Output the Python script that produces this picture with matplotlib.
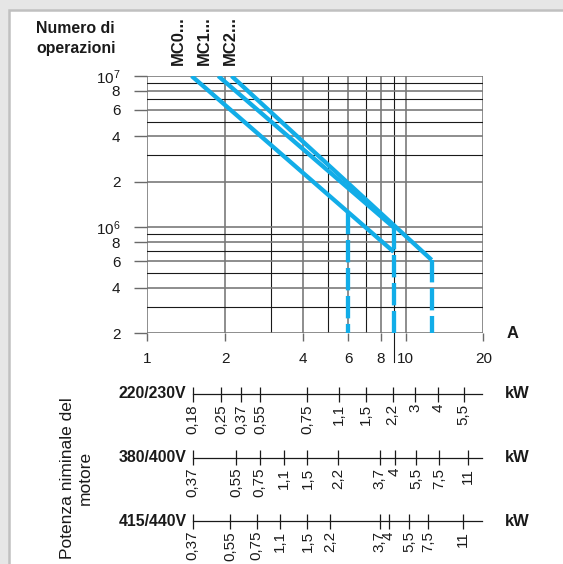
import matplotlib
matplotlib.use('Agg')
import matplotlib.pyplot as plt
from matplotlib import font_manager
from matplotlib.patches import Rectangle
from matplotlib.ticker import NullLocator

available = {f.name for f in font_manager.fontManager.ttflist}
narrow = 'Liberation Sans'
for cand in ['Liberation Sans Narrow', 'DejaVu Sans Condensed']:
    if cand in available:
        narrow = cand
        break
scale = 1.0 if narrow != 'Liberation Sans' else 0.88

plt.rcParams['font.family'] = [narrow, 'DejaVu Sans']
plt.rcParams['mathtext.fontset'] = 'custom'
plt.rcParams['mathtext.rm'] = narrow
plt.rcParams['mathtext.it'] = narrow

BLUE = '#12ade8'
INK = '#1a1a1a'

# grid of the log-log chart (current in A, number of operations)
grid_currents = [1, 2, 3, 4, 5, 6, 7, 8, 9, 10, 20]
current_ticks = [1, 2, 4, 6, 8, 10, 20]
grid_ops = [2e5, 3e5, 4e5, 5e5, 6e5, 7e5, 8e5, 9e5,
            1e6, 2e6, 3e6, 4e6, 5e6, 6e6, 7e6, 8e6, 9e6, 1e7]
ops_ticks = [2e5, 4e5, 6e5, 8e5, 1e6, 2e6, 4e6, 6e6, 8e6, 1e7]
ops_labels = ['2', '4', '6', '8', r'$10^6$', '2', '4', '6', '8', r'$10^7$']

# contactor curves
series = ['MC0...', 'MC1...', 'MC2...']
label_i = [1.32, 1.67, 2.09]
curve_i = [[1.485, 9.0], [1.883, 9.0], [2.12, 12.62]]
curve_n = [[1e7, 6.9e5], [1e7, 1.0e6], [1e7, 6.1e5]]
limit_i = [6.0, 9.0, 12.62]
limit_n = [1.26e6, 1.0e6, 6.1e5]

# motor power scales (kW placed at their current)
rows = ['220/230V', '380/400V', '415/440V']
kw_labels = [
    ['0,18', '0,25', '0,37', '0,55', '0,75', '1,1', '1,5', '2,2', '3', '4', '5,5'],
    ['0,37', '0,55', '0,75', '1,1', '1,5', '2,2', '3,7', '4', '5,5', '7,5', '11'],
    ['0,37', '0,55', '0,75', '1,1', '1,5', '2,2', '3,7', '4', '5,5', '7,5', '11'],
]
kw_current = [
    [1.50, 1.93, 2.31, 2.74, 4.16, 5.52, 7.01, 8.92, 10.9, 13.4, 16.8],
    [1.50, 2.21, 2.72, 3.37, 4.17, 5.48, 7.93, 9.10, 11.0, 13.5, 17.4],
    [1.50, 2.09, 2.65, 3.26, 4.17, 5.11, 7.93, 8.59, 10.3, 12.2, 16.7],
]
scale_start, scale_end = 1.5, 19.8

W, H = 563, 564
fig = plt.figure(figsize=(W / 100, H / 100), dpi=100)
fig.patch.set_facecolor('#e6e6e6')
fig.patches.append(Rectangle((8.5 / W, -0.02), 1.1, 1.02 - 10.5 / H,
                             transform=fig.transFigure, facecolor='white',
                             edgecolor='#c0c0c0', lw=1.8, zorder=-5))

# ---- main chart
ax = fig.add_axes([147.3 / W, 1 - 333.3 / H, 336 / W, 257.3 / H])
ax.set_xscale('log')
ax.set_yscale('log')
ax.set_xlim(1, 20)
ax.set_ylim(2e5, 1e7)
ax.patch.set_alpha(0)
for s in ax.spines.values():
    s.set_visible(False)

for c in grid_currents:
    major = c in current_ticks
    ax.axvline(c, color='#7a7a7a' if major else INK,
               lw=1.2 if major else 0.8, zorder=1)
for n in grid_ops:
    major = n in ops_ticks
    ax.axhline(n, color='#7a7a7a' if major else INK,
               lw=1.2 if major else 0.8, zorder=1)
# line at 9 A runs down past the axis
ax.axvline(9, ymin=-0.11, ymax=0, color=INK, lw=0.8, clip_on=False)

ax.xaxis.set_minor_locator(NullLocator())
ax.yaxis.set_minor_locator(NullLocator())
ax.set_xticks(current_ticks)
ax.set_xticklabels([str(c) for c in current_ticks])
ax.set_yticks(ops_ticks)
ax.set_yticklabels(ops_labels)
ax.tick_params(axis='x', length=5.8, width=1, color='#6a6a6a', pad=8,
               labelsize=12.5 * scale, labelcolor=INK)
ax.tick_params(axis='y', length=9.4, width=1, color='#6a6a6a', pad=10,
               labelsize=12.5 * scale, labelcolor=INK)

for name, li, ci, cn, xi, xn in zip(series, label_i, curve_i, curve_n, limit_i, limit_n):
    ax.plot(ci, cn, color=BLUE, lw=3.1, solid_capstyle='butt', zorder=3)
    ax.plot([xi, xi], [xn, 2e5], color=BLUE, lw=3.1, dashes=(5.2, 1.3),
            dash_capstyle='butt', zorder=3)
    ax.annotate(name, (li, 1e7), xytext=(0, 8), textcoords='offset points',
                rotation=90, ha='center', va='bottom', fontsize=13.5 * scale,
                fontweight='bold', color=INK, annotation_clip=False)

ax.annotate('A', (20, 2e5), xytext=(17, 0), textcoords='offset points',
            ha='left', va='center', fontsize=13.5 * scale, fontweight='bold',
            color=INK, annotation_clip=False)

fig.text(36 / W, 1 - 33 / H, 'Numero di', ha='left', va='baseline',
         fontsize=13 * scale, fontweight='bold', color=INK)
fig.text(36 / W, 1 - 53 / H, 'operazioni', ha='left', va='baseline',
         fontsize=13 * scale, fontweight='bold', color=INK)

# ---- power scales
ax2 = fig.add_axes([147.3 / W, 0, 336 / W, 194 / H])
ax2.set_xscale('log')
ax2.set_xlim(1, 20)
ax2.set_ylim(564, 370)
ax2.axis('off')

row_y = [394, 457.7, 521]
for name, y, labs, cur in zip(rows, row_y, kw_labels, kw_current):
    ax2.plot([scale_start, scale_end], [y, y], color=INK, lw=0.9, clip_on=False)
    ax2.vlines(cur, y - 7.5, y + 7.5, color=INK, lw=0.9, clip_on=False)
    for c, lab in zip(cur, labs):
        ax2.text(c, y + 10, lab, rotation=90, ha='center', va='top',
                 fontsize=12.5 * scale, color=INK)
    ax2.annotate(name, (scale_start, y), xytext=(-4.5, 0), textcoords='offset points',
                 ha='right', va='center', fontsize=13 * scale, fontweight='bold',
                 color=INK, annotation_clip=False)
    ax2.annotate('kW', (scale_end, y), xytext=(25, 0), textcoords='offset points',
                 ha='center', va='center', fontsize=13.5 * scale, fontweight='bold',
                 color=INK, annotation_clip=False)

fig.text(76 / W, 1 - 478 / H, 'Potenza niminale del\nmotore', rotation=90,
         ha='center', va='center', multialignment='center', fontsize=12.5,
         family=['Liberation Sans', 'DejaVu Sans'], color=INK, linespacing=1.25)

fig.savefig('out.png', dpi=100, facecolor=fig.get_facecolor())
